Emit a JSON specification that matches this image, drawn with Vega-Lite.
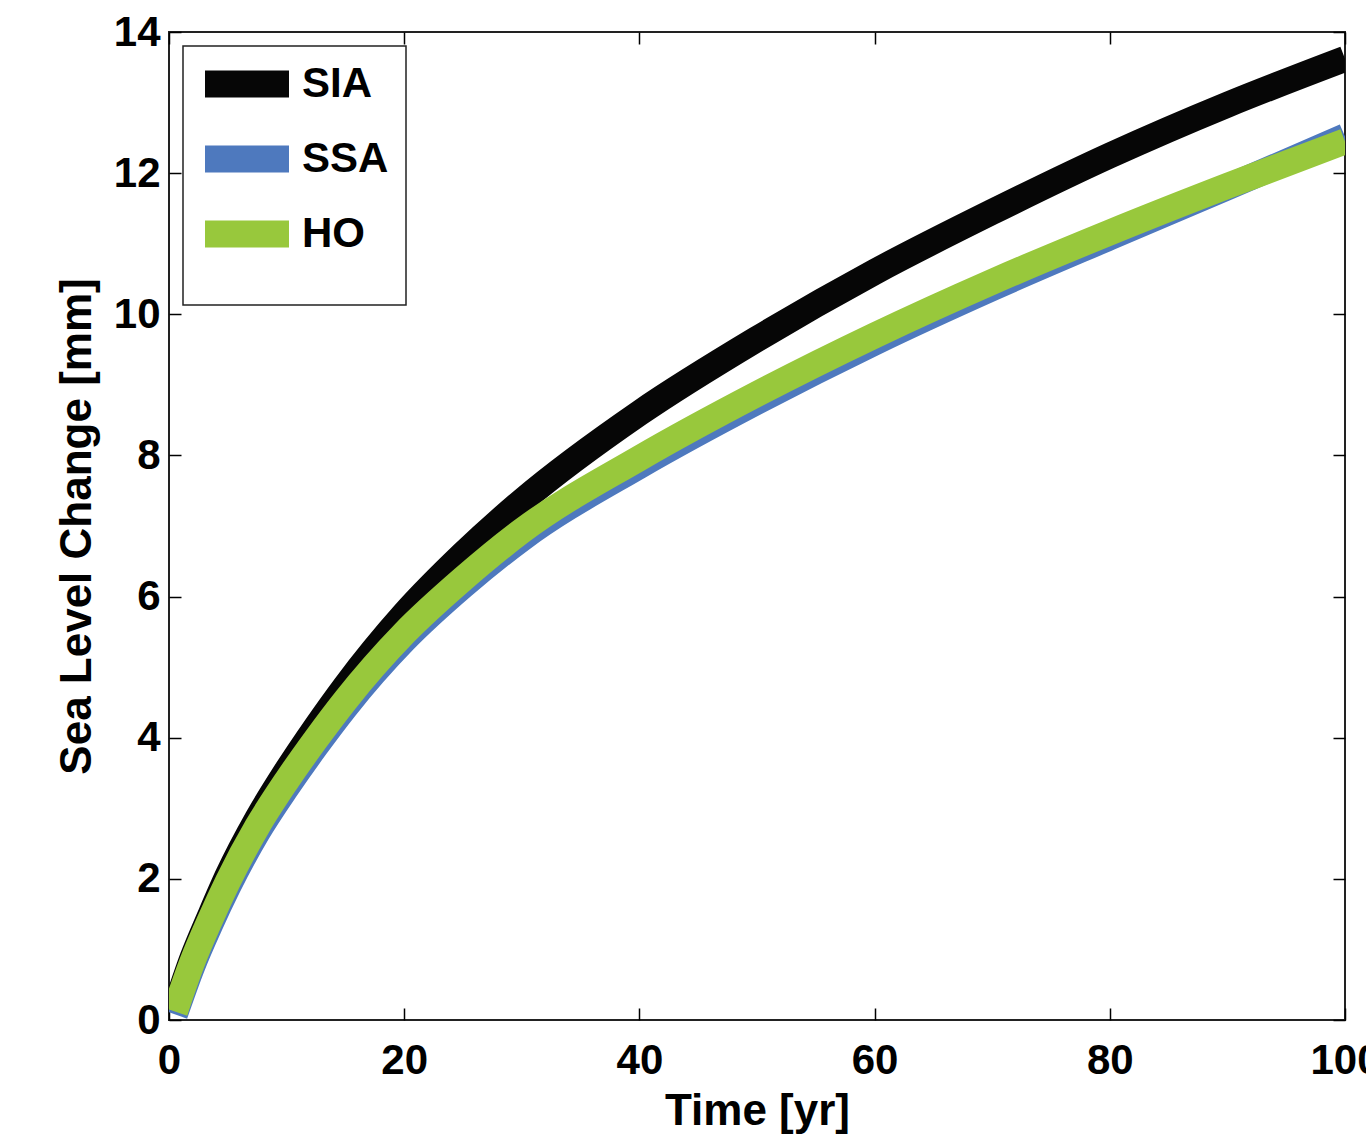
{
  "$schema": "https://vega.github.io/schema/vega-lite/v6.json",
  "width": 1176,
  "height": 988,
  "autosize": {"type": "none"},
  "padding": {"left": 169, "top": 32, "right": 21, "bottom": 120},
  "background": "white",
  "config": {
    "view": {"stroke": "#222", "strokeWidth": 2},
    "axis": {
      "grid": false,
      "domain": false,
      "tickColor": "#000",
      "tickWidth": 1.5,
      "tickSize": -12,
      "labelFlush": false,
      "labelFont": "Liberation Sans",
      "labelFontWeight": "bold",
      "labelFontSize": 42,
      "labelColor": "#000",
      "titleFont": "Liberation Sans",
      "titleFontWeight": "bold",
      "titleFontSize": 44,
      "titleColor": "#000"
    },
    "legend": {
      "orient": "top-left",
      "offset": 14,
      "padding": 17,
      "strokeColor": "#222",
      "strokeWidth": 1.5,
      "fillColor": "white",
      "symbolType": "M-12,0H12",
      "symbolSize": 49,
      "symbolStrokeWidth": 27,
      "symbolOffset": 26,
      "labelFont": "Liberation Sans",
      "labelFontWeight": "bold",
      "labelFontSize": 42,
      "labelColor": "#000",
      "labelOffset": 34,
      "rowPadding": -70
    }
  },
  "data": {
    "values": [
      {"series": "SIA", "t": 0.5, "v": 0.15},
      {"series": "SIA", "t": 2, "v": 0.88},
      {"series": "SIA", "t": 3.5, "v": 1.48},
      {"series": "SIA", "t": 5, "v": 2.05},
      {"series": "SIA", "t": 7.5, "v": 2.85},
      {"series": "SIA", "t": 10, "v": 3.53},
      {"series": "SIA", "t": 12.5, "v": 4.15},
      {"series": "SIA", "t": 15, "v": 4.73},
      {"series": "SIA", "t": 20, "v": 5.75},
      {"series": "SIA", "t": 25, "v": 6.6},
      {"series": "SIA", "t": 30, "v": 7.35},
      {"series": "SIA", "t": 40, "v": 8.6},
      {"series": "SIA", "t": 50, "v": 9.65},
      {"series": "SIA", "t": 60, "v": 10.6},
      {"series": "SIA", "t": 70, "v": 11.45},
      {"series": "SIA", "t": 80, "v": 12.25},
      {"series": "SIA", "t": 90, "v": 12.97},
      {"series": "SIA", "t": 100, "v": 13.62},
      {"series": "SSA", "t": 0.5, "v": 0.08},
      {"series": "SSA", "t": 2, "v": 0.77},
      {"series": "SSA", "t": 3.5, "v": 1.35},
      {"series": "SSA", "t": 5, "v": 1.88},
      {"series": "SSA", "t": 7.5, "v": 2.65},
      {"series": "SSA", "t": 10, "v": 3.29},
      {"series": "SSA", "t": 12.5, "v": 3.88},
      {"series": "SSA", "t": 15, "v": 4.43},
      {"series": "SSA", "t": 20, "v": 5.38},
      {"series": "SSA", "t": 25, "v": 6.15},
      {"series": "SSA", "t": 30, "v": 6.82},
      {"series": "SSA", "t": 40, "v": 7.85},
      {"series": "SSA", "t": 50, "v": 8.76},
      {"series": "SSA", "t": 60, "v": 9.6},
      {"series": "SSA", "t": 70, "v": 10.37},
      {"series": "SSA", "t": 80, "v": 11.09},
      {"series": "SSA", "t": 90, "v": 11.8},
      {"series": "SSA", "t": 100, "v": 12.52},
      {"series": "HO", "t": 0.5, "v": 0.12},
      {"series": "HO", "t": 2, "v": 0.83},
      {"series": "HO", "t": 3.5, "v": 1.42},
      {"series": "HO", "t": 5, "v": 1.96},
      {"series": "HO", "t": 7.5, "v": 2.74},
      {"series": "HO", "t": 10, "v": 3.39},
      {"series": "HO", "t": 12.5, "v": 3.98},
      {"series": "HO", "t": 15, "v": 4.53},
      {"series": "HO", "t": 20, "v": 5.48},
      {"series": "HO", "t": 25, "v": 6.25},
      {"series": "HO", "t": 30, "v": 6.93},
      {"series": "HO", "t": 40, "v": 7.96},
      {"series": "HO", "t": 50, "v": 8.87},
      {"series": "HO", "t": 60, "v": 9.7},
      {"series": "HO", "t": 70, "v": 10.46},
      {"series": "HO", "t": 80, "v": 11.16},
      {"series": "HO", "t": 90, "v": 11.82},
      {"series": "HO", "t": 100, "v": 12.45}
    ]
  },
  "resolve": {"axis": {"x": "independent", "y": "independent"}},
  "layer": [
    {
      "mark": {"type": "point", "opacity": 0},
      "encoding": {
        "x": {"field": "t", "type": "quantitative", "scale": {"domain": [0, 100], "nice": false}, "axis": {"orient": "top", "labels": false, "title": null, "values": [0, 20, 40, 60, 80, 100]}},
        "y": {"field": "v", "type": "quantitative", "scale": {"domain": [0, 14], "nice": false}, "axis": {"orient": "right", "labels": false, "title": null, "values": [0, 2, 4, 6, 8, 10, 12, 14]}}
      }
    },
    {
      "layer": [
        {
          "transform": [{"filter": "datum.series === 'SIA'"}],
          "mark": {"type": "line", "strokeWidth": 26, "clip": true, "interpolate": "monotone"},
          "encoding": {
            "color": {"field": "series", "type": "nominal", "scale": {"domain": ["SIA", "SSA", "HO"], "range": ["#060606", "#4E79BE", "#98C83C"]}, "legend": {"title": null}}
          }
        },
        {
          "transform": [{"filter": "datum.series === 'SSA'"}],
          "mark": {"type": "line", "strokeWidth": 26, "clip": true, "interpolate": "monotone"},
          "encoding": {
            "color": {"field": "series", "type": "nominal", "scale": {"domain": ["SIA", "SSA", "HO"], "range": ["#060606", "#4E79BE", "#98C83C"]}, "legend": {"title": null}}
          }
        },
        {
          "transform": [{"filter": "datum.series === 'HO'"}],
          "mark": {"type": "line", "strokeWidth": 26, "clip": true, "interpolate": "monotone"},
          "encoding": {
            "color": {"field": "series", "type": "nominal", "scale": {"domain": ["SIA", "SSA", "HO"], "range": ["#060606", "#4E79BE", "#98C83C"]}, "legend": {"title": null}}
          }
        }
      ],
      "encoding": {
        "x": {"field": "t", "type": "quantitative", "scale": {"domain": [0, 100], "nice": false}, "axis": {"orient": "bottom", "title": "Time [yr]", "values": [0, 20, 40, 60, 80, 100], "labelPadding": 32, "titlePadding": 8}},
        "y": {"field": "v", "type": "quantitative", "scale": {"domain": [0, 14], "nice": false}, "axis": {"orient": "left", "title": "Sea Level Change [mm]", "values": [0, 2, 4, 6, 8, 10, 12, 14], "labelPadding": 21, "titlePadding": 14}}
      }
    }
  ]
}
